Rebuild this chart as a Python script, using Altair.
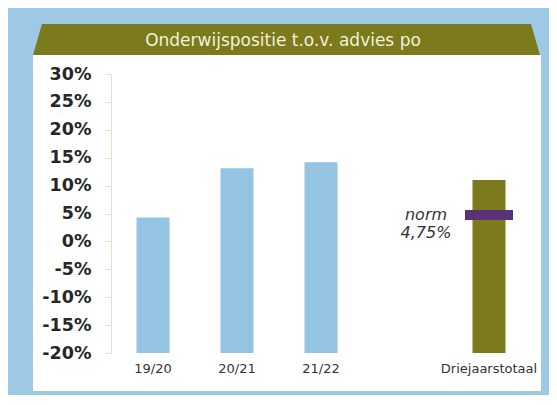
import altair as alt
import pandas as pd

# ---- data -------------------------------------------------------------
categories = ["19/20", "20/21", "21/22", "Driejaarstotaal"]
values = [0.043, 0.131, 0.142, 0.110]
groups = ["jaar", "jaar", "jaar", "totaal"]
x_domain = ["19/20", "20/21", "21/22", " ", "Driejaarstotaal"]
y_ticks = [-0.20, -0.15, -0.10, -0.05, 0.0, 0.05, 0.10, 0.15, 0.20, 0.25, 0.30]
y_min, y_max = -0.20, 0.30
norm_category = "Driejaarstotaal"
norm_value = 0.0475
norm_label = ["norm", "4,75%"]
title_text = "Onderwijspositie t.o.v. advies po"

# ---- styling ----------------------------------------------------------
BLUE_BG = "#9dc9e5"
BAR_BLUE = "#95c4e2"
OLIVE = "#7b7a1d"
PURPLE = "#5a3275"
CREAM = "#f3f1d6"

df = pd.DataFrame({
    "categorie": categories,
    "waarde": values,
    "basis": [y_min] * len(categories),
    "groep": groups,
})

x_scale = alt.Scale(domain=x_domain, paddingInner=0.607, paddingOuter=0.3035)
x_axis = alt.Axis(title=None, labelAngle=0, domain=False, ticks=False,
                  labelPadding=9, labelFontSize=13, labelColor="#333333",
                  labelFont="DejaVu Sans", zindex=2, labelOverlap=False)

y_scale = alt.Scale(domain=[y_min, y_max], nice=False, zero=False)
y_axis = alt.Axis(title=None, values=y_ticks, grid=False,
                  labelExpr="round(datum.value*100) + '%'",
                  labelFontSize=17.5, labelFontWeight="bold",
                  labelColor="#262626", labelFont="DejaVu Sans",
                  labelPadding=14, tickSize=6, zindex=2,
                  labelOverlap=False, labelBound=False,
                  domainColor="#e2e0c6", tickColor="#e2e0c6")

bars = alt.Chart(df).mark_bar().encode(
    x=alt.X("categorie:N", sort=None, scale=x_scale, axis=x_axis),
    y=alt.Y("waarde:Q", scale=y_scale, axis=y_axis),
    y2="basis:Q",
    color=alt.Color("groep:N", scale=alt.Scale(domain=["jaar", "totaal"],
                                              range=[BAR_BLUE, OLIVE]),
                    legend=None),
)

norm_data = alt.Data(values=[{"categorie": norm_category, "norm": norm_value,
                              "label": norm_label}])

norm_tick = alt.Chart(norm_data).mark_tick(
    orient="horizontal", size=48, thickness=10, color=PURPLE, opacity=1
).encode(
    x=alt.X("categorie:N", sort=None, scale=x_scale, axis=x_axis),
    y=alt.Y("norm:Q", scale=y_scale, axis=y_axis),
)

norm_text = alt.Chart(norm_data).mark_text(
    align="center", baseline="middle", dx=-63, fontSize=16,
    fontStyle="italic", lineHeight=18, color="#333333", font="DejaVu Sans"
).encode(
    x=alt.X("categorie:N", sort=None, scale=x_scale, axis=x_axis),
    y=alt.Y("norm:Q", scale=y_scale, axis=y_axis),
    text="label:N",
)

one = alt.Data(values=[{"k": 1}])

panel = alt.Chart(one).mark_rect(color="white").encode(
    x=alt.value(-78), x2=alt.value(430), y=alt.value(-19), y2=alt.value(317)
)

banner = alt.Chart(one).mark_point(
    shape="M -244.5 -15.5 L 244.5 -15.5 L 253.5 15.5 L -253.5 15.5 Z",
    size=4, filled=True, opacity=1, color=OLIVE, strokeWidth=0,
).encode(x=alt.value(175.5), y=alt.value(-34.5))

title = alt.Chart(one).mark_text(
    text=title_text, fontSize=17, color=CREAM, font="DejaVu Sans",
    align="center", baseline="middle",
).encode(x=alt.value(172), y=alt.value(-33))

chart = alt.layer(panel, banner, title, bars, norm_tick, norm_text).properties(
    width=420,
    height=279,
    background=BLUE_BG,
    padding={"left": 103, "top": 66, "right": 18, "bottom": 42},
    autosize=alt.AutoSizeParams(type="none"),
).configure_view(stroke=None)

chart.save("out.html", embed_options={"renderer": "svg", "actions": False})
